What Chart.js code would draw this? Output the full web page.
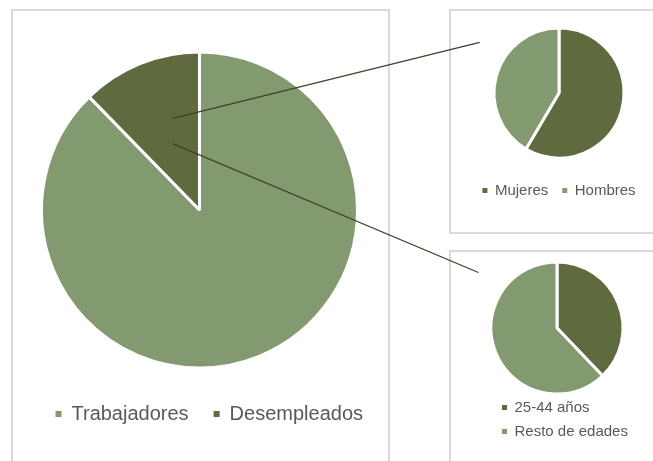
<!DOCTYPE html>
<html>
<head>
    <title>Desempleados</title>
    <meta charset="utf-8">
    <script src="https://cdn.jsdelivr.net/npm/chart.js"></script>
    <style>
        body { margin: 0; background: #fff; }
        #wrap { position: relative; width: 653px; height: 461px; overflow: hidden; }
        .panel { position: absolute; border: 2px solid #d9d9d9; box-sizing: border-box; }
        canvas { position: absolute; }
    </style>
</head>
<body>
<div id="wrap">
    <div class="panel" style="left:11px; top:9px; width:379px; height:480px;"></div>
    <div class="panel" style="left:449px; top:9px; width:240px; height:225px;"></div>
    <div class="panel" style="left:449px; top:250px; width:240px; height:240px;"></div>
    <canvas id="main" width="653" height="461" style="left:0; top:0;"></canvas>
    <canvas id="sexo" width="320" height="240" style="left:399px; top:0;"></canvas>
    <canvas id="edad" width="320" height="221" style="left:399px; top:240px;"></canvas>
</div>
<script>
    // datos
    var mainLabels = ['Trabajadores', 'Desempleados'];
    var mainValues = [87.7, 12.3];

    var sexLabels = ['Mujeres', 'Hombres'];
    var sexValues = [58.5, 41.5];

    var ageLabels = ['25-44 años', 'Resto de edades'];
    var ageValues = [37.9, 62.1];

    var claro = '#83996f';
    var oscuro = '#5f6a3e';

    Chart.defaults.font.family = '"Liberation Sans", Arial, sans-serif';
    Chart.defaults.color = '#595959';
    Chart.defaults.animation = false;
    Chart.defaults.plugins.tooltip.enabled = false;

    // cuadritos de la leyenda sin el borde blanco de los sectores
    function etiquetas(chart) {
        var items = Chart.overrides.doughnut.plugins.legend.labels.generateLabels(chart);
        items.forEach(function(it) {
            it.lineWidth = 0;
            it.strokeStyle = it.fillStyle;
        });
        return items;
    }

    function pie(id, labels, values, colors, radius, padding, legend, title) {
        return new Chart(document.getElementById(id), {
            type: 'pie',
            data: {
                labels: labels,
                datasets: [{
                    data: values,
                    backgroundColor: colors,
                    borderColor: '#ffffff',
                    borderWidth: 3
                }]
            },
            options: {
                responsive: false,
                radius: radius,
                layout: { padding: padding },
                plugins: { legend: legend, title: title || { display: false } }
            }
        });
    }

    var sexChart = pie('sexo', sexLabels, sexValues, [oscuro, claro], 65,
        { left: 0, right: 0, top: 17, bottom: 32 },
        { position: 'bottom', align: 'center',
          labels: { boxWidth: 5, boxHeight: 5, padding: 14, font: { size: 15 }, generateLabels: etiquetas } });

    // el titulo vacio a la derecha solo reserva sitio para centrar la tarta
    var ageChart = pie('edad', ageLabels, ageValues, [oscuro, claro], 66,
        { left: 94, right: 0, top: 25, bottom: 12 },
        { position: 'bottom', align: 'start',
          labels: { boxWidth: 5, boxHeight: 5, padding: 9, font: { size: 15 }, generateLabels: etiquetas } },
        { display: true, position: 'right', text: '', fullSize: false, padding: 48.5, font: { size: 1, lineHeight: 1 } });

    // lineas que unen el sector de desempleados con los graficos pequeños
    var conectores = {
        id: 'conectores',
        afterDraw: function(chart) {
            var arc = chart.getDatasetMeta(0).data[1];
            var r = arc.outerRadius;
            var ctx = chart.ctx;
            var destinos = [
                { c: sexChart, fy: -0.58, ex: -1.22, ey: -0.78 },
                { c: ageChart, fy: -0.42, ex: -1.19, ey: -0.84 }
            ];
            ctx.save();
            ctx.strokeStyle = '#3c4326';
            ctx.lineWidth = 1.2;
            destinos.forEach(function(d) {
                var a = d.c.getDatasetMeta(0).data[0];
                var ox = d.c.canvas.offsetLeft, oy = d.c.canvas.offsetTop;
                ctx.beginPath();
                ctx.moveTo(arc.x - 0.17 * r, arc.y + d.fy * r);
                ctx.lineTo(ox + a.x + d.ex * a.outerRadius, oy + a.y + d.ey * a.outerRadius);
                ctx.stroke();
            });
            ctx.restore();
        }
    };

    var mainChart = new Chart(document.getElementById('main'), {
        type: 'pie',
        data: {
            labels: mainLabels,
            datasets: [{
                data: mainValues,
                backgroundColor: [claro, oscuro],
                borderColor: '#ffffff',
                borderWidth: 3
            }]
        },
        options: {
            responsive: false,
            radius: 158,
            layout: { padding: { left: 11, right: 265, top: 41, bottom: 27 } },
            plugins: {
                legend: {
                    position: 'bottom', align: 'end',
                    labels: { boxWidth: 6, boxHeight: 6, padding: 25, font: { size: 20 }, generateLabels: etiquetas }
                }
            }
        },
        plugins: [conectores]
    });
</script>
</body>
</html>
